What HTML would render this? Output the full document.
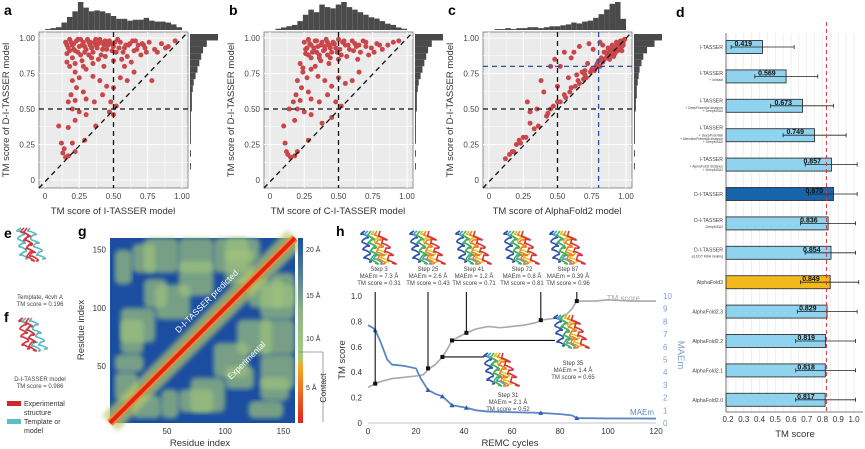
<!DOCTYPE html>
<html><head><meta charset="utf-8"><style>
html,body{margin:0;padding:0;background:#fff;width:865px;height:449px;overflow:hidden}
svg{display:block;font-family:"Liberation Sans",sans-serif}
</style></head><body>
<svg id="fig" width="865" height="449" viewBox="0 0 865 449"></svg>
<script>
// ---------- data ----------
const scatterAx=[0.15,0.17,0.18,0.2,0.22,0.23,0.25,0.26,0.28,0.3,0.31,0.33,0.35,0.36,0.38,0.4,0.41,0.43,0.45,0.47,0.5,0.52,0.55,0.58,0.6,0.62,0.65,0.68,0.7,0.73,0.76,0.8,0.85,0.9,0.95,0.2,0.27,0.34,0.16,0.24,0.32,0.39,0.44,0.56,0.63,0.18,0.22,0.25,0.2,0.23,0.3,0.35,0.4,0.45,0.5,0.55,0.6,0.65,0.78,0.28,0.19,0.17,0.22,0.3,0.36,0.42,0.48,0.52,0.2,0.25,0.3,0.22,0.17,0.37,0.1,0.47,0.5,0.12,0.14,0.13,0.15,0.17,0.2,0.22,0.29,
0.16,0.19,0.21,0.24,0.27,0.29,0.32,0.34,0.37,0.39,0.42,0.44,0.46,0.49,0.51,0.54,0.57,0.61,0.64,0.67,0.71,0.74,0.18,0.21,0.26,0.29,0.33,0.37,0.41,0.45,0.48,0.53,0.59,0.66,0.72,0.82,0.88,0.16,0.22,0.28,0.35,0.43,0.5,0.58];
const scatterAy=[0.97,0.93,0.99,0.95,0.91,0.98,0.94,0.88,0.97,0.92,0.99,0.95,0.9,0.97,0.93,0.99,0.88,0.95,0.92,0.98,0.94,0.9,0.97,0.93,0.87,0.96,0.91,0.95,0.88,0.93,0.97,0.92,0.96,0.94,0.98,0.86,0.84,0.86,0.89,0.9,0.88,0.85,0.87,0.85,0.83,0.8,0.76,0.72,0.7,0.65,0.78,0.73,0.7,0.66,0.65,0.72,0.7,0.76,0.7,0.62,0.6,0.55,0.56,0.57,0.55,0.6,0.55,0.52,0.5,0.48,0.46,0.42,0.37,0.38,0.38,0.48,0.46,0.26,0.22,0.19,0.16,0.17,0.26,0.2,0.28,
0.95,0.97,0.92,0.99,0.95,0.9,0.97,0.93,0.99,0.96,0.92,0.98,0.95,0.91,0.97,0.93,0.9,0.95,0.98,0.92,0.96,0.9,0.91,0.96,0.99,0.94,0.97,0.95,0.97,0.95,0.96,0.99,0.95,0.98,0.95,0.9,0.93,0.83,0.82,0.8,0.82,0.8,0.84,0.8];
const scatterBx=[0.25,0.27,0.28,0.3,0.32,0.33,0.35,0.36,0.38,0.4,0.41,0.43,0.45,0.46,0.48,0.5,0.52,0.55,0.58,0.6,0.63,0.66,0.7,0.74,0.78,0.82,0.86,0.9,0.94,0.3,0.37,0.44,0.26,0.34,0.42,0.5,0.56,0.64,0.72,0.22,0.24,0.27,0.2,0.23,0.3,0.35,0.4,0.45,0.5,0.55,0.6,0.65,0.28,0.19,0.17,0.22,0.3,0.36,0.42,0.48,0.52,0.2,0.25,0.3,0.14,0.18,0.1,0.38,0.45,0.11,0.12,0.13,0.15,0.18,0.2,0.28,
0.26,0.29,0.31,0.34,0.37,0.39,0.42,0.44,0.47,0.49,0.53,0.57,0.61,0.65,0.68,0.28,0.32,0.36,0.4,0.46,0.51,0.54,0.62,0.7,0.76,0.8,0.33,0.43,0.24];
const scatterBy=[0.97,0.93,0.99,0.95,0.91,0.98,0.94,0.88,0.97,0.92,0.99,0.95,0.9,0.97,0.93,0.99,0.88,0.95,0.92,0.98,0.94,0.9,0.97,0.93,0.96,0.92,0.95,0.97,0.98,0.86,0.84,0.86,0.89,0.9,0.88,0.85,0.87,0.85,0.88,0.82,0.76,0.72,0.7,0.65,0.78,0.73,0.7,0.66,0.72,0.68,0.7,0.76,0.62,0.6,0.55,0.56,0.57,0.55,0.6,0.55,0.52,0.5,0.48,0.46,0.5,0.42,0.38,0.4,0.44,0.26,0.2,0.18,0.16,0.17,0.2,0.28,
0.92,0.96,0.9,0.98,0.95,0.91,0.97,0.93,0.96,0.9,0.97,0.95,0.91,0.95,0.98,0.88,0.93,0.86,0.94,0.96,0.92,0.98,0.96,0.94,0.9,0.95,0.8,0.82,0.79];
const scatterCx=[0.85,0.87,0.88,0.9,0.92,0.93,0.95,0.96,0.97,0.98,0.99,0.86,0.89,0.91,0.94,0.97,0.8,0.82,0.84,0.78,0.75,0.7,0.72,0.65,0.6,0.68,0.55,0.5,0.58,0.45,0.42,0.5,0.62,0.66,0.73,0.76,0.81,0.83,0.48,0.4,0.35,0.3,0.25,0.2,0.15,0.12,0.18,0.22,0.3,0.38,0.52,0.6,0.55,0.45,0.28,0.64,0.7,0.88,0.92,0.94,
0.86,0.88,0.9,0.91,0.93,0.95,0.96,0.98,0.84,0.87,0.89,0.92,0.94,0.97,0.79,0.81,0.83,0.77,0.74,0.71,0.69,0.66,0.63,0.59,0.56,0.52,0.47,0.43,0.36,0.33,0.27,0.23,0.17];
const scatterCy=[0.9,0.93,0.88,0.95,0.92,0.97,0.96,0.93,0.98,0.97,0.99,0.86,0.91,0.89,0.95,0.94,0.84,0.86,0.9,0.8,0.78,0.74,0.82,0.7,0.65,0.76,0.6,0.55,0.72,0.5,0.45,0.66,0.9,0.94,0.96,0.92,0.97,0.95,0.85,0.62,0.5,0.4,0.3,0.25,0.18,0.15,0.2,0.28,0.48,0.7,0.8,0.86,0.9,0.8,0.55,0.74,0.77,0.85,0.89,0.91,
0.87,0.9,0.92,0.87,0.94,0.92,0.98,0.95,0.85,0.88,0.93,0.9,0.96,0.91,0.82,0.8,0.83,0.77,0.76,0.72,0.71,0.68,0.66,0.62,0.58,0.55,0.52,0.47,0.38,0.36,0.3,0.26,0.2];
const histTopA=[1,2,3,8,14,20,30,24,20,21,20,18,15,12,12,10,11,11,13,10,9,9,8,6,3];
const histRightA=[30,18,14,12,10,8,6,4,3,2,2,2,1,1,1,1,1,0,1,0,1,0];
const histTopB=[0,1,2,3,4,7,12,16,14,20,18,17,20,22,18,16,14,12,10,9,7,5,4,2,1];
const histTopC=[0,1,1,2,1,2,2,3,3,2,3,4,4,5,6,8,7,9,10,13,17,22,28,30,12];
const histRightC=[30,22,14,10,8,6,5,4,3,3,2,2,1,1,1,1,1,0,1,0,1,0];
const tickLabels01=["0","0.25","0.50","0.75","1.00"];
const tickValues01=[0,0.25,0.5,0.75,1];

const dMethods=[["I-TASSER"],["I-TASSER","+ contact"],["I-TASSER","+ DeepPotential distance","+ DeepMSA2"],["I-TASSER","+ DeepPotential","+ AttentionPotential distance","+ DeepMSA2"],["I-TASSER","+ AlphaFold2 distance","+ DeepMSA2"],["D-I-TASSER"],["D-I-TASSER","-DeepMSA2"],["D-I-TASSER","-pLDDT MSA ranking"],["AlphaFold3"],["AlphaFold2.3"],["AlphaFold2.2"],["AlphaFold2.1"],["AlphaFold2.0"]];
const dValues=[0.419,0.569,0.673,0.749,0.857,0.870,0.836,0.854,0.849,0.829,0.819,0.818,0.817];
const dErrLow=[0.22,0.37,0.47,0.55,0.69,0.71,0.66,0.69,0.66,0.64,0.63,0.63,0.63];
const dErrHigh=[0.62,0.77,0.87,0.95,1.02,1.02,1.01,1.01,1.03,1.02,1.01,1.01,1.01];
const dTicks=[0.2,0.3,0.4,0.5,0.6,0.7,0.8,0.9,1.0];
const dRef=0.825;

const hTmCycles=[0,3,6,10,15,20,23,25,28,31,33,35,38,41,45,50,55,60,65,70,72,76,80,83,85,87,95,100,110,120];
const hTmValues=[0.28,0.31,0.33,0.35,0.36,0.37,0.38,0.42,0.46,0.52,0.58,0.65,0.68,0.71,0.74,0.76,0.75,0.76,0.77,0.79,0.81,0.82,0.83,0.86,0.9,0.96,0.96,0.97,0.96,0.96];
const hMaeCycles=[0,2,3,5,8,10,15,20,22,25,28,31,35,41,45,50,60,72,80,85,87,100,120];
const hMaeValues=[7.7,7.5,7.3,6.5,5.0,4.6,4.5,4.3,3.5,2.6,2.3,2.1,1.4,1.2,1.0,0.9,0.85,0.8,0.7,0.6,0.39,0.36,0.35];
const hSteps=[3,25,41,72,87];
const hStepTm=[0.31,0.43,0.71,0.81,0.96];
const hStepMae=["7.3","2.6","1.2","0.8","0.39"];
const hSideSteps=[31,35];
const hSideTm=[0.52,0.65];
const hMaeMarkCycles=[3,25,31,35,41,72,87];
const hMaeMarkValues=[7.3,2.6,2.1,1.4,1.2,0.8,0.39];
const hXTicks=[0,20,40,60,80,100,120];
const hYTicks=[0,0.2,0.4,0.6,0.8,1.0];
const hY2Ticks=[0,1,2,3,4,5,6,7,8,9,10];

const gContactBlobs=[[5,20,120,150],[20,40,130,155],[40,70,90,120],[60,90,130,160],[10,30,60,90],[90,120,130,160],[100,130,140,160],[30,50,100,125],[5,25,20,45],[110,140,60,90],[130,160,30,60],[70,100,10,40],[45,60,5,30],[120,150,100,125]];
const gYTicks=[50,100,150];
const gXTicks=[50,100,150];

// ---------- helpers ----------
const NS="http://www.w3.org/2000/svg";
const fig=document.getElementById('fig');
function el(tag,attrs,parent,text){const e=document.createElementNS(NS,tag);for(const k in attrs)e.setAttribute(k,attrs[k]);if(text!==undefined)e.textContent=text;(parent||fig).appendChild(e);return e;}
function grp(name,parent){const g=el('g',{},parent);return g;}

// ---------- scatter panels ----------
function scatterPanel(off,label,xs,ys,histTop,histRight,xtitle,blueLine){
  const g=grp('panel-'+label);
  const x0=off+45,x1=off+182,y0=180,y1=38;
  const sx=v=>x0+v*(x1-x0), sy=v=>y0-v*(y0-y1);
  const t=el('text',{x:off+4,y:15,'font-size':14,'font-weight':'bold'},g,label);
  
  el('rect',{x:off+39,y:32,width:149,height:156,fill:'#ebebeb',stroke:'#777','stroke-width':0.8},g);
  const grid=grp('grid-'+label,g);
  for(let v=0;v<=1.001;v+=0.125){el('line',{x1:sx(v),x2:sx(v),y1:32,y2:188,stroke:'#fff','stroke-width':v%0.25<0.01?1:0.5},grid);el('line',{x1:off+39,x2:off+188,y1:sy(v),y2:sy(v),stroke:'#fff','stroke-width':v%0.25<0.01?1:0.5},grid);}
  const ht=grp('top-histogram-'+label,g);const bw=(x1-x0)/histTop.length;const hm=Math.max(...histTop);
  histTop.forEach((h,i)=>{const r=el('rect',{x:x0+i*bw,y:30-h/hm*28,width:bw,height:h/hm*28,fill:'#4a4a4a'},ht);});
  if(histRight){const hr=grp('right-histogram-'+label,g);const bh=(y0-y1)/histRight.length;const hm2=Math.max(...histRight);
    histRight.forEach((h,i)=>{const r=el('rect',{x:off+190,y:y1+i*bh-4,width:h/hm2*28,height:bh,fill:'#4a4a4a'},hr);});}
  const pts=grp('points-'+label,g);
  xs.forEach((v,i)=>{const c=el('circle',{cx:sx(v),cy:sy(ys[i]),r:2.5,fill:'#c9474a'},pts);});
  el('line',{x1:off+39,y1:188,x2:off+188,y2:32,stroke:'#111','stroke-width':1.3,'stroke-dasharray':'5,4'},g);
  el('line',{x1:off+39,x2:off+188,y1:sy(0.5),y2:sy(0.5),stroke:'#111','stroke-width':1.3,'stroke-dasharray':'5,4'},g);
  el('line',{x1:sx(0.5),x2:sx(0.5),y1:32,y2:188,stroke:'#111','stroke-width':1.3,'stroke-dasharray':'5,4'},g);
  if(blueLine){el('line',{x1:off+39,x2:off+188,y1:sy(0.8),y2:sy(0.8),stroke:'#2c4fa3','stroke-width':1.3,'stroke-dasharray':'5,4'},g);
    el('line',{x1:sx(0.8),x2:sx(0.8),y1:32,y2:188,stroke:'#2c4fa3','stroke-width':1.3,'stroke-dasharray':'5,4'},g);}
  const ax=grp('axes-'+label,g);
  tickValues01.forEach((v,i)=>{el('text',{x:sx(v),y:199,'font-size':8,'text-anchor':'middle',fill:'#444'},ax,tickLabels01[i]);
    el('text',{x:off+35,y:sy(v)+3,'font-size':8,'text-anchor':'end',fill:'#444'},ax,tickLabels01[i]);});
  const xt=el('text',{x:off+113,y:214,'font-size':9.5,'text-anchor':'middle',fill:'#333'},g,xtitle);
  const yt=el('text',{x:0,y:0,'font-size':9.5,'text-anchor':'middle',fill:'#333',transform:`translate(${off+9},110) rotate(-90)`},g,'TM score of D-I-TASSER model');
}
scatterPanel(0,'a',scatterAx,scatterAy,histTopA,histRightA,'TM score of I-TASSER model',false);
scatterPanel(225,'b',scatterBx,scatterBy,histTopB,histRightA,'TM score of C-I-TASSER model',false);
scatterPanel(444,'c',scatterCx,scatterCy,histTopC,histRightC,'TM score of AlphaFold2 model',true);

// ---------- panel d ----------
(function(){
  const g=grp('panel-d');
  el('text',{x:676,y:17,'font-size':14,'font-weight':'bold'},g,'d');
  const xd=v=>728+(v-0.2)*157.5;
  const top=33,bot=412;
  const grid=grp('grid-d',g);
  for(let v=0.2;v<=1.05;v+=0.05){el('line',{x1:xd(v),x2:xd(v),y1:top,y2:bot,stroke:'#e4e4e4','stroke-width':0.6},grid);}
  el('line',{x1:726,x2:726,y1:top,y2:bot,stroke:'#555','stroke-width':0.8},g);
  el('line',{x1:726,x2:863,y1:bot,y2:bot,stroke:'#555','stroke-width':0.8},g);
  dTicks.forEach(v=>{el('text',{x:xd(v),y:422,'font-size':8,'text-anchor':'middle',fill:'#333'},g,v.toFixed(1));});
  el('text',{x:795,y:437,'font-size':9.5,'text-anchor':'middle',fill:'#333'},g,'TM score');
  dValues.forEach((v,i)=>{
    const cy=47+i*29.4;
    const fill=i===5?'#1764ab':(i===8?'#f2b91c':'#8fd3ef');
    const r=el('rect',{x:726,y:cy-6.5,width:xd(v)-726,height:13,fill:fill,stroke:'#333','stroke-width':0.9},g);
    
    el('line',{x1:xd(dErrLow[i]),x2:xd(dErrHigh[i]),y1:cy,y2:cy,stroke:'#222','stroke-width':0.8},g);
    el('line',{x1:xd(dErrLow[i]),x2:xd(dErrLow[i]),y1:cy-2,y2:cy+2,stroke:'#222','stroke-width':0.8},g);
    el('line',{x1:xd(dErrHigh[i]),x2:xd(dErrHigh[i]),y1:cy-2,y2:cy+2,stroke:'#222','stroke-width':0.8},g);
    el('text',{x:xd(v)-28,y:cy-1,'font-size':7,'font-weight':'bold',fill:'#111'},g,v.toFixed(3));
    const lines=dMethods[i];const n=lines.length;
    lines.forEach((s,k)=>{const main=k===0;el('text',{x:723,y:cy+(k-(n-1)/2)*(main?4:3.3)+ (main?2:3)-(n>1?1.5:0)+(k>0?1.5:0),'font-size':main?5.2:3.4,'text-anchor':'end',fill:'#444'},g,s);});
  });
  el('line',{x1:xd(dRef),x2:xd(dRef),y1:22,y2:bot,stroke:'#d9343a','stroke-width':1,'stroke-dasharray':'4,3'},g);
})();

// ---------- panels e/f ----------
function molecule(cx,cy,colors,name){
  const g=grp(name);
  colors.forEach((c,i)=>{let d=`M${cx-14+i*3},${cy-12}`;for(let k=0;k<8;k++){d+=` q${(k%2?9:-7)+i},${4+i%3} ${(k%2?3:-2)+i%2},${3+(i+k)%3}`;}
    el('path',{d:d,fill:'none',stroke:c,'stroke-width':1.6},g);});
  return g;
}
el('text',{x:4,y:238,'font-size':14,'font-weight':'bold'},null,'e');
molecule(35,240,['#59b8c2','#d8343a','#d8343a','#59b8c2'],'template-structure-e');
el('text',{x:40,y:299,'font-size':6,'text-anchor':'middle',fill:'#444'},null,'Template, 4cvh A');
el('text',{x:40,y:306,'font-size':6,'text-anchor':'middle',fill:'#444'},null,'TM score = 0.196');
el('text',{x:4,y:322,'font-size':14,'font-weight':'bold'},null,'f');
molecule(37,330,['#d8343a','#59b8c2','#d8343a','#59b8c2'],'model-structure-f');
el('text',{x:40,y:381,'font-size':6,'text-anchor':'middle',fill:'#444'},null,'D-I-TASSER model');
el('text',{x:40,y:388,'font-size':6,'text-anchor':'middle',fill:'#444'},null,'TM score = 0.986');
const lg=grp('legend-ef');
el('rect',{x:7,y:401,width:14,height:5,fill:'#d0272d'},lg);
el('text',{x:24,y:406,'font-size':7,fill:'#333'},lg,'Experimental');
el('text',{x:24,y:415,'font-size':7,fill:'#333'},lg,'structure');
el('rect',{x:7,y:419,width:14,height:5,fill:'#5dbcc5'},lg);
el('text',{x:24,y:424,'font-size':7,fill:'#333'},lg,'Template or');
el('text',{x:24,y:433,'font-size':7,fill:'#333'},lg,'model');

// ---------- panel g ----------
(function(){
  const g=grp('panel-g');
  el('text',{x:78,y:236,'font-size':14,'font-weight':'bold'},g,'g');
  const L=110,R=295,T=238,B=423;
  const sx=v=>L+(v-1)/159*(R-L), sy=v=>B-(v-1)/159*(B-T);
  const defs=el('defs',{},g);const f=el('filter',{id:'blur'},defs);el('feGaussianBlur',{stdDeviation:2.5},f);
  el('rect',{x:L,y:T,width:R-L,height:B-T,fill:'#1b4ea0'},g);
  const hm=grp('heatmap-cells',g);
  gContactBlobs.forEach(b=>{
    [[b[0],b[1],b[2],b[3]],[b[2],b[3],b[0],b[1]]].forEach(q=>{
      const r=el('rect',{x:sx(q[0]),y:sy(q[3]),width:sx(q[1])-sx(q[0]),height:sy(q[2])-sy(q[3]),fill:'#9fc27c',opacity:0.7,filter:'url(#blur)',rx:6},hm);
      });
  });
  el('line',{x1:sx(1),y1:sy(1),x2:sx(160),y2:sy(160),stroke:'#b9c86a','stroke-width':22,opacity:0.7,filter:'url(#blur)'},g);
  el('line',{x1:sx(1),y1:sy(1),x2:sx(160),y2:sy(160),stroke:'#f08a25','stroke-width':8},g);
  el('line',{x1:sx(1),y1:sy(1),x2:sx(160),y2:sy(160),stroke:'#e0231f','stroke-width':4},g);
  el('text',{x:0,y:0,'font-size':8.5,fill:'#fff',transform:`translate(${sx(60)},${sy(78)}) rotate(-45)`},g,'D-I-TASSER predicted');
  el('text',{x:0,y:0,'font-size':8.5,fill:'#fff',transform:`translate(${sx(105)},${sy(38)}) rotate(-45)`},g,'Experimental');
  gYTicks.forEach(v=>el('text',{x:L-4,y:sy(v)+3,'font-size':8,'text-anchor':'end',fill:'#333'},g,v));
  gXTicks.forEach(v=>el('text',{x:sx(v),y:434,'font-size':8,'text-anchor':'middle',fill:'#333'},g,v));
  el('text',{x:200,y:446,'font-size':9.5,'text-anchor':'middle',fill:'#333'},g,'Residue index');
  el('text',{x:0,y:0,'font-size':9.5,'text-anchor':'middle',fill:'#333',transform:'translate(84,330) rotate(-90)'},g,'Residue index');
  const lgd=el('linearGradient',{id:'cb',x1:0,y1:1,x2:0,y2:0},defs);
  [['0','#e0231f'],['0.3','#f6a623'],['0.36','#a8c97f'],['0.6','#8fb38a'],['1','#1b4ea0']].forEach(s=>el('stop',{offset:s[0],'stop-color':s[1]},lgd));
  const cb=el('rect',{x:298,y:238,width:5,height:185,fill:'url(#cb)'},g);
  [['20 Å',249],['15 Å',295],['10 Å',338],['5 Å',387]].forEach(t=>el('text',{x:306,y:t[1]+3,'font-size':7,fill:'#333'},g,t[0]));
  el('line',{x1:298,x2:323,y1:352,y2:352,stroke:'#888','stroke-width':0.8},g);
  el('line',{x1:323,x2:323,y1:352,y2:422,stroke:'#888','stroke-width':0.8},g);
  el('text',{x:0,y:0,'font-size':8.5,'text-anchor':'middle',fill:'#333',transform:'translate(326,388) rotate(-90)'},g,'Contact');
})();

// ---------- panel h ----------
(function(){
  const g=grp('panel-h');
  el('text',{x:336,y:236,'font-size':14,'font-weight':'bold'},g,'h');
  const sx=v=>368+v/120*(656-368), sy=v=>423-v*(423-296), sy2=v=>423-v/10*(423-296);
  el('line',{x1:368,x2:656,y1:423,y2:423,stroke:'#888','stroke-width':0.6},g);
  hXTicks.forEach(v=>el('text',{x:sx(v),y:434,'font-size':8,'text-anchor':'middle',fill:'#333'},g,v));
  hYTicks.forEach(v=>el('text',{x:362,y:sy(v)+3,'font-size':8,'text-anchor':'end',fill:'#333'},g,v===0?'0':v.toFixed(1)));
  hY2Ticks.forEach(v=>el('text',{x:663,y:sy2(v)+3,'font-size':8,fill:'#7f9bd0'},g,v));
  el('text',{x:510,y:446,'font-size':9.5,'text-anchor':'middle',fill:'#333'},g,'REMC cycles');
  el('text',{x:0,y:0,'font-size':9.5,'text-anchor':'middle',fill:'#333',transform:'translate(345,360) rotate(-90)'},g,'TM score');
  el('text',{x:0,y:0,'font-size':9.5,'text-anchor':'middle',fill:'#7f9bd0',transform:'translate(678,355) rotate(90)'},g,'MAEm');
  const tm=el('polyline',{points:hTmCycles.map((c,i)=>sx(c)+','+sy(hTmValues[i])).join(' '),fill:'none',stroke:'#a9a9a9','stroke-width':1.6},g);
  
  const ma=el('polyline',{points:hMaeCycles.map((c,i)=>sx(c)+','+sy2(hMaeValues[i])).join(' '),fill:'none',stroke:'#5b86c6','stroke-width':1.8},g);
  
  hMaeMarkCycles.forEach((c,i)=>{const p=el('path',{d:`M${sx(c)},${sy2(hMaeMarkValues[i])-2.5} l2.5,4.5 h-5 z`,fill:'#2f5fa8'},g);});
  el('text',{x:640,y:301,'font-size':8,'text-anchor':'end',fill:'#aaa'},g,'TM score');
  el('text',{x:654,y:415,'font-size':8,'text-anchor':'end',fill:'#5b86c6'},g,'MAEm');
  const cols=['#2c4fb0','#3aa9c8','#4caf50','#e8c21c','#e8842a','#d8343a'];
  hSteps.forEach((s,i)=>{
    const x=sx(s), lx=[379,428,474,522,568][i];
    el('line',{x1:x,x2:x,y1:sy(hStepTm[i]),y2:292,stroke:'#111','stroke-width':1.1},g);
    const m=el('rect',{x:x-2,y:sy(hStepTm[i])-2,width:4,height:4,fill:'#111'},g);
    el('text',{x:lx,y:271,'font-size':6,'text-anchor':'middle',fill:'#444'},g,'Step '+s);
    el('text',{x:lx,y:278,'font-size':6,'text-anchor':'middle',fill:'#444'},g,'MAEm = '+hStepMae[i]+' Å');
    el('text',{x:lx,y:285,'font-size':6,'text-anchor':'middle',fill:'#444'},g,'TM score = '+hStepTm[i].toFixed(2));
    molecule(lx,243,cols,'structure-step-'+s);
  });
  const sideEnds=[484,555];
  hSideSteps.forEach((s,i)=>{
    el('line',{x1:sx(s),x2:sideEnds[i],y1:sy(hSideTm[i]),y2:sy(hSideTm[i]),stroke:'#111','stroke-width':1.1},g);
    el('rect',{x:sx(s)-2,y:sy(hSideTm[i])-2,width:4,height:4,fill:'#111'},g);
  });
  molecule(502,365,cols,'structure-step-31');
  el('text',{x:508,y:397,'font-size':6,'text-anchor':'middle',fill:'#444'},g,'Step 31');
  el('text',{x:508,y:404,'font-size':6,'text-anchor':'middle',fill:'#444'},g,'MAEm = 2.1 Å');
  el('text',{x:508,y:411,'font-size':6,'text-anchor':'middle',fill:'#444'},g,'TM score = 0.52');
  molecule(572,327,cols,'structure-step-35');
  el('text',{x:573,y:365,'font-size':6,'text-anchor':'middle',fill:'#444'},g,'Step 35');
  el('text',{x:573,y:372,'font-size':6,'text-anchor':'middle',fill:'#444'},g,'MAEm = 1.4 Å');
  el('text',{x:573,y:379,'font-size':6,'text-anchor':'middle',fill:'#444'},g,'TM score = 0.65');
})();
</script>
</body></html>
